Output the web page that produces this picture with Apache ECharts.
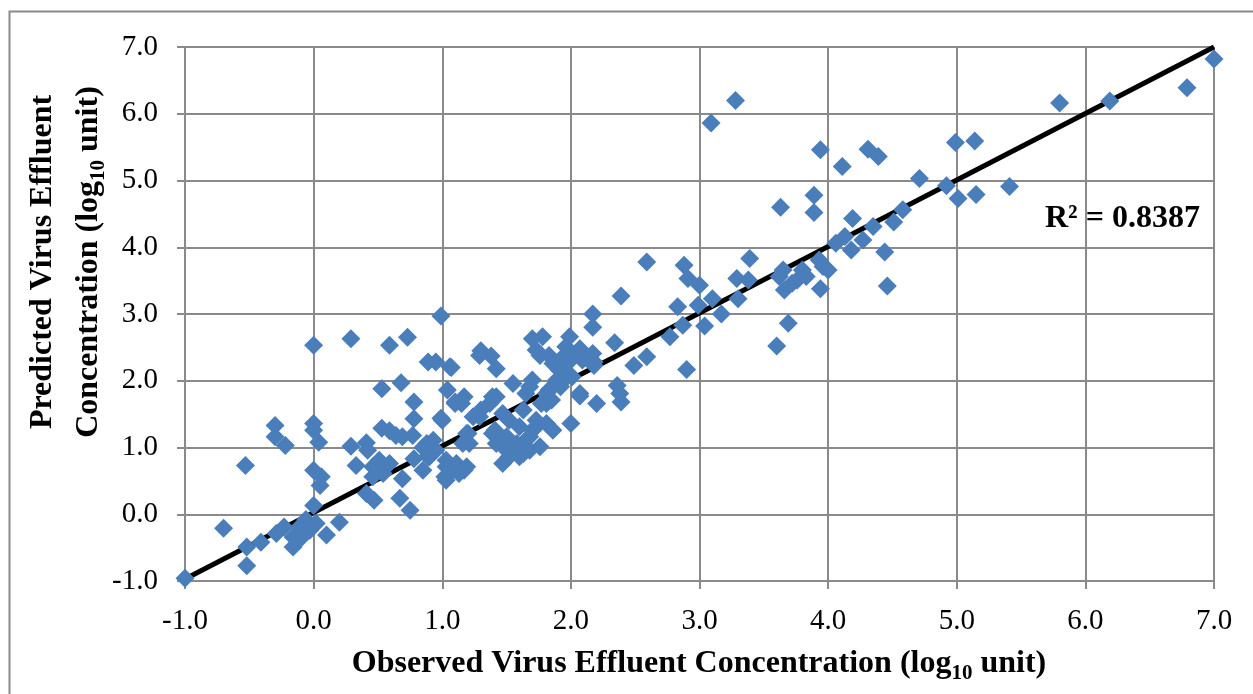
<!DOCTYPE html>
<html>
<head>
<meta charset="utf-8">
<script src="https://cdn.jsdelivr.net/npm/echarts@6/dist/echarts.min.js"></script>
<style>
html,body{margin:0;padding:0;background:#fff;}
#chart{width:1253px;height:694px;}
</style>
</head>
<body>
<div id="chart"></div>
<script>
// Observed (x) values, log10 units
const observed = [
  -1.0,-0.70,-0.52,-0.52,-0.41,-0.29,-0.23,-0.16,-0.10,-0.16,-0.11,-0.06,-0.03,0.0,0.02,0.10,0.20,0.0,0.06,0.05,
  -0.30,-0.30,-0.22,-0.53,0.0,0.0,0.04,0.0,
  0.29,0.59,0.73,0.99,0.89,0.95,1.07,0.53,0.68,0.78,0.78,0.99,0.29,0.41,0.42,0.33,0.53,0.59,0.64,0.69,0.77,0.88,
  0.93,0.95,0.89,0.78,0.85,1.03,1.08,1.03,0.46,0.51,0.59,0.46,0.69,0.54,0.41,0.47,0.67,0.75,
  1.04,1.10,1.06,1.29,1.30,1.38,1.42,1.17,1.10,1.15,1.39,1.42,1.37,1.30,1.24,1.47,1.52,1.55,1.70,1.65,
  1.68,1.81,1.83,1.86,1.77,1.85,1.81,1.63,1.60,1.70,1.81,1.86,1.73,1.73,1.68,1.00,1.29,1.41,1.20,1.21,
  1.39,1.42,1.50,1.58,1.65,1.52,1.60,1.47,1.68,1.76,1.63,1.60,1.50,1.19,1.16,0.85,0.90,1.03,1.11,1.17,
  1.02,1.19,1.13,
  1.70,1.78,1.99,1.73,1.83,1.96,2.04,1.86,1.91,1.96,1.89,1.76,1.89,2.00,1.92,2.01,
  2.39,2.17,2.17,2.34,2.07,1.94,2.17,2.18,1.94,2.49,2.59,2.90,2.77,2.83,2.87,2.99,3.04,3.10,3.17,2.36,
  2.39,2.20,2.07,2.00,1.92,2.59,2.88,2.91,3.00,2.07,2.38,2.09,2.18,
  3.28,3.09,3.94,3.63,3.89,3.89,3.39,3.29,3.38,3.30,3.69,3.60,3.93,3.96,4.00,3.94,3.80,3.83,3.76,3.65,
  3.66,3.72,3.62,
  4.11,4.31,4.39,4.99,5.14,4.71,4.92,5.01,5.15,5.41,5.80,6.19,6.79,7.00,4.19,4.35,4.58,4.51,4.06,4.13,
  4.18,4.27,4.44,4.46
];
// Predicted (y) values, log10 units
const predicted = [
  -0.96,-0.21,-0.49,-0.77,-0.42,-0.29,-0.19,-0.49,-0.36,-0.34,-0.19,-0.08,-0.24,0.13,-0.14,-0.31,-0.12,0.66,0.56,0.43,
  1.33,1.16,1.03,0.73,1.36,1.26,1.08,2.53,
  2.63,2.53,2.65,2.97,2.28,2.28,2.20,1.88,1.97,1.68,1.43,1.44,1.02,1.07,0.96,0.73,1.29,1.25,1.18,1.16,1.18,1.06,
  1.11,0.96,0.86,0.83,0.66,0.81,0.66,0.51,0.71,0.81,0.76,0.56,0.53,0.61,0.31,0.21,0.24,0.06,
  1.86,1.68,2.21,2.38,2.45,2.37,2.18,1.76,1.66,1.66,1.76,1.76,1.66,1.56,1.46,1.51,1.41,1.96,2.01,1.81,
  1.91,1.81,1.86,1.91,1.66,1.71,1.66,1.56,1.31,1.26,1.36,1.26,1.41,1.31,1.16,1.41,1.46,1.26,1.21,1.06,
  1.21,1.06,1.16,1.06,1.11,0.86,0.91,0.76,0.96,1.01,0.91,0.86,0.96,1.21,1.06,1.00,0.86,0.71,0.76,0.66,
  0.56,0.71,0.61,
  2.63,2.66,2.66,2.46,2.38,2.51,2.41,2.26,2.16,2.06,2.01,2.38,2.26,2.31,1.96,2.06,
  3.27,3.00,2.80,2.57,2.48,2.36,2.41,2.23,2.16,2.23,2.36,2.17,2.66,3.11,2.83,3.13,2.82,3.23,3.00,1.93,
  1.68,1.66,1.77,1.36,1.91,3.78,3.73,3.53,3.43,1.81,1.81,2.31,2.28,
  6.20,5.86,5.46,4.60,4.78,4.52,3.83,3.53,3.51,3.23,2.86,2.52,3.81,3.71,3.66,3.38,3.66,3.56,3.51,3.66,
  3.36,3.46,3.56,
  5.21,5.47,5.36,5.57,5.59,5.03,4.92,4.73,4.79,4.91,6.16,6.19,6.39,6.82,4.43,4.31,4.56,4.38,4.06,4.16,
  3.96,4.11,3.93,3.42
];
// Linear trendline end points
const trendX = [-1.0, 7.0];
const trendY = [-0.97, 7.0];
const axisTicks = [-1, 0, 1, 2, 3, 4, 5, 6, 7];
const r2Label = 'R² = 0.8387';
const xTitle = ['Observed Virus Effluent Concentration (log', '10', ' unit)'];
const yTitle1 = 'Predicted Virus Effluent';
const yTitle2 = ['Concentration (log', '10', ' unit)'];

const scatterData = observed.map((x, i) => [x, predicted[i]]);
const trendData = trendX.map((x, i) => [x, trendY[i]]);

const FONT = '"Liberation Serif", "Times New Roman", serif';
const GRID = '#8a8a8a';
const chart = echarts.init(document.getElementById('chart'));

const titleRich = {
  m: {fontFamily: FONT, fontWeight: 'bold', fontSize: 32, lineHeight: 40, color: '#000'},
  s: {fontFamily: FONT, fontWeight: 'bold', fontSize: 21, lineHeight: 21, verticalAlign: 'bottom', color: '#000'}
};
function richTitle(parts) {
  return '{m|' + parts[0] + '}{s|' + parts[1] + '}{m|' + parts[2] + '}';
}

const axisCommon = {
  type: 'value',
  min: axisTicks[0],
  max: axisTicks[axisTicks.length - 1],
  interval: 1,
  axisLine: {show: true, onZero: false, lineStyle: {color: GRID, width: 2}},
  axisTick: {show: true, inside: false, length: 8, lineStyle: {color: GRID, width: 2}},
  splitLine: {show: true, lineStyle: {color: GRID, width: 2}},
  axisLabel: {
    fontFamily: FONT, fontSize: 29, color: '#000',
    formatter: v => v.toFixed(1)
  }
};

chart.setOption({
  backgroundColor: '#fff',
  animation: false,
  grid: {left: 185, right: 39, top: 47, bottom: 113},
  xAxis: Object.assign({}, axisCommon, {axisLabel: Object.assign({}, axisCommon.axisLabel, {margin: 26})}),
  yAxis: Object.assign({}, axisCommon, {axisLabel: Object.assign({}, axisCommon.axisLabel, {margin: 27})}),
  series: [
    {
      type: 'line',
      data: trendData,
      symbol: 'none',
      lineStyle: {color: '#000', width: 5},
      z: 2,
      silent: true
    },
    {
      type: 'scatter',
      data: scatterData,
      symbol: 'diamond',
      symbolSize: 19,
      itemStyle: {color: '#4a7ebb', opacity: 1},
      z: 3
    }
  ],
  graphic: [
    {type: 'rect', left: 7, top: 9, shape: {width: 1300, height: 700}, style: {fill: 'none', stroke: '#8a8a8a', lineWidth: 2}, z: -1, silent: true},
    {type: 'text', x: 1045, y: 219, style: {text: r2Label, fontFamily: FONT, fontWeight: 'bold', fontSize: 32, fill: '#000', textAlign: 'left', textVerticalAlign: 'middle'}, z: 10},
    {type: 'text', x: 699, y: 664, style: {text: richTitle(xTitle), rich: titleRich, textAlign: 'center', textVerticalAlign: 'middle'}},
    {type: 'text', x: 43, y: 262, rotation: Math.PI / 2, style: {text: '{m|' + yTitle1 + '}', rich: titleRich, textAlign: 'center', textVerticalAlign: 'middle'}},
    {type: 'text', x: 89, y: 262, rotation: Math.PI / 2, style: {text: richTitle(yTitle2), rich: titleRich, textAlign: 'center', textVerticalAlign: 'middle'}}
  ]
});
</script>
</body>
</html>
